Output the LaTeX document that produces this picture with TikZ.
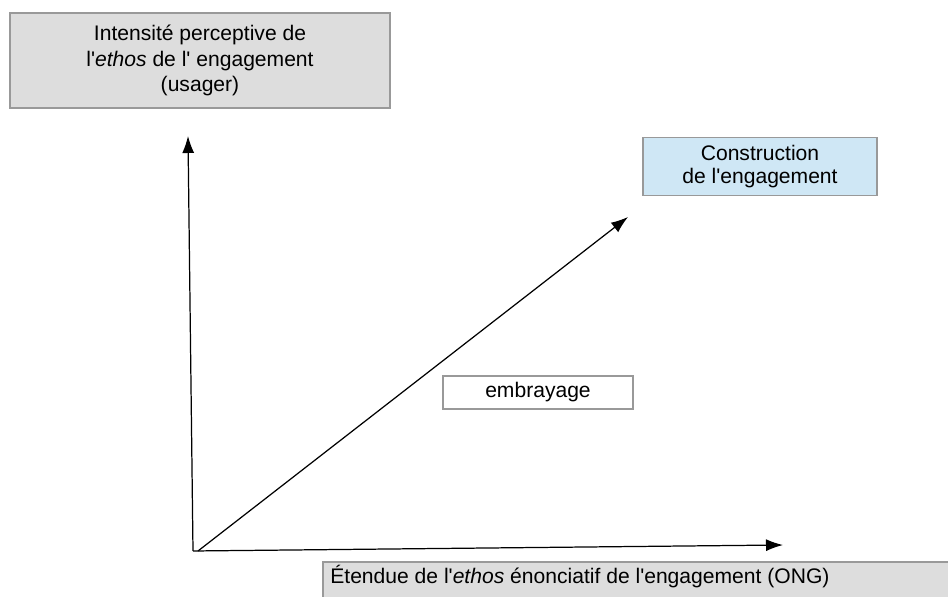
\documentclass[tikz,border=0pt]{standalone}
\usepackage{fontspec}
\setmainfont{Liberation Sans}
\usetikzlibrary{arrows.meta}

\definecolor{grisboite}{HTML}{DDDDDD}
\definecolor{bleuboite}{HTML}{CFE7F5}
\newcommand{\apos}{\textquotesingle}

\begin{document}
\begin{tikzpicture}[x=0.02cm, y=-0.02cm,
		boite/.style={draw=gray!80, line width=0.8pt, align=center, inner sep=0pt, font=\fontsize{12}{14.7}\selectfont},
		axe/.style={line width=0.7pt, -{Latex[length=3.4mm, width=2.4mm]}}]
		\clip (0,0) rectangle (948,597);
		\node[boite, fill=grisboite, minimum width=7.6cm, minimum height=1.9cm] (usager) at (200,60.5) {Intensité perceptive de\\l\apos\textit{ethos} de l\apos{} engagement\\(usager)};
		\node[boite, fill=bleuboite, minimum width=4.68cm, minimum height=1.16cm, font=\fontsize{12}{13.5}\selectfont] (construction) at (760,166.5) {Construction\\de l\apos engagement};
		\node[boite, fill=white, minimum width=3.8cm, minimum height=0.66cm] (embrayage) at (538,392.5) {embrayage};
		\draw[draw=gray!80, fill=grisboite, line width=0.8pt] (323,562) rectangle (965,615);
		\node[anchor=base west, inner sep=0pt, font=\fontsize{12}{14.7}\selectfont] (ong) at (330,584) {Étendue de l\apos\textit{ethos} énonciatif de l\apos engagement (ONG)};
		\coordinate (o) at (193,551);
		\coordinate (haut) at (188,136);
		\coordinate (droite) at (783,545);
		\coordinate (diag) at (628,217);
		\draw[axe] (o) -- (haut);
		\draw[axe] (o) -- (droite);
		\draw[axe] ([xshift=0.1cm]o) -- (diag);
	\end{tikzpicture}
\end{document}
